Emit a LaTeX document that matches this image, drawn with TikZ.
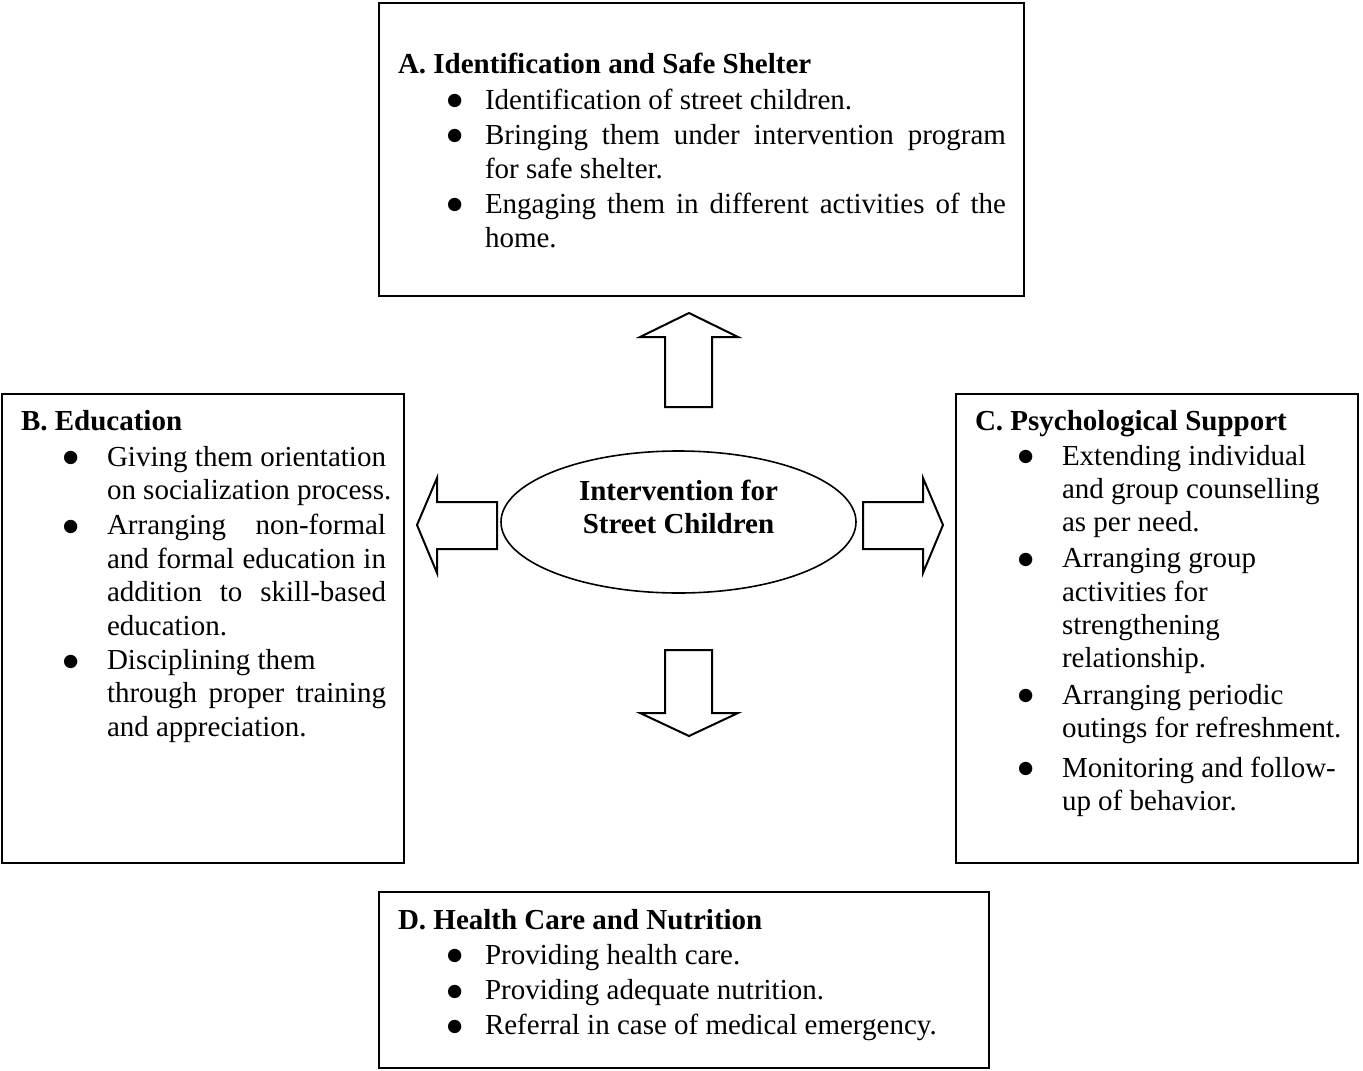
\documentclass[tikz,border=0pt]{standalone}
\usepackage{fontspec}
\setmainfont{Liberation Serif}
\newfontfamily\dejavu{DejaVu Sans}
\usetikzlibrary{shapes.geometric}

\newlength\bulind
\newlength\txtind
\newcommand\bulmark{\makebox[\txtind][l]{\hspace{\bulind}\raisebox{3.5pt}{\dejavu\fontsize{17.5}{17.5}\selectfont ●}}}
\newcommand\bitem[1][0pt]{\par\vspace{#1}\hangindent=\txtind\hangafter=1\noindent\bulmark\ignorespaces}
\newcommand\boxsetup[3]{\fontsize{29}{#1}\selectfont\setlength\bulind{#2}\setlength\txtind{#3}%
  \hyphenpenalty=10000 \exhyphenpenalty=10000 \hfuzz=60pt \hbadness=10000 }

\tikzset{
  frame/.style={draw, line width=2pt, inner sep=0pt, outer sep=0pt},
  bodytext/.style={anchor=base west, inner sep=0pt, outer sep=0pt, text width=#1, align=justify},
  blk/.style={draw, line width=2pt, fill=white, line join=miter},
  hubshape/.style={ellipse, draw, line width=1.6pt, inner sep=0pt},
}

\begin{document}
\begin{tikzpicture}[x=1pt, y=-1pt]
\useasboundingbox[fill=white] (0,0) rectangle (1363,1071);

% boxes
\node[frame, minimum width=645pt, minimum height=293pt] (boxA) at (701.5,149.5) {};
\node[frame, minimum width=402pt, minimum height=469pt] (boxB) at (203,628.5) {};
\node[frame, minimum width=402pt, minimum height=469pt] (boxC) at (1157,628.5) {};
\node[frame, minimum width=610pt, minimum height=176pt] (boxD) at (684,980) {};

% central ellipse
\node[hubshape, minimum width=355pt, minimum height=142pt] (hub) at (678.5,522) {};
\node[anchor=base, align=center, inner sep=0pt, font=\bfseries\fontsize{29}{33}\selectfont] (hubtext) at (678.5,533)
  {Intervention for\\Street Children};

% block arrows
\draw[blk] (665,407) -- (665,337) -- (640,337) -- (689,313) -- (738,337) -- (712,337) -- (712,407) -- cycle;
\draw[blk] (665,650) -- (712,650) -- (712,713) -- (738,713) -- (689,736) -- (640,713) -- (665,713) -- cycle;
\draw[blk] (497,502) -- (437,502) -- (437,478) -- (417,525) -- (437,573) -- (437,549) -- (497,549) -- cycle;
\draw[blk] (863,502) -- (923,502) -- (923,478) -- (943,525) -- (923,573) -- (923,549) -- (863,549) -- cycle;

% A
\node[bodytext=608pt] (textA) at (398,73) {\boxsetup{34pt}{49pt}{87pt}%
{\bfseries A. Identification and Safe Shelter}%
\bitem[2pt] Identification~of~street~children.
\bitem[1pt] Bringing~them~under~intervention~program\linebreak for~safe~shelter.
\bitem[1pt] Engaging~them~in~different~activities~of~the\linebreak home.\par};

% B
\node[bodytext=365pt] (textB) at (21,430) {\boxsetup{33.4pt}{42pt}{86pt}%
{\bfseries B. Education}%
\bitem[2.6pt] Giving~them~orientation\linebreak \mbox{on socialization process.}
\bitem[2pt] Arranging~non-formal\linebreak and~formal~education~in\linebreak addition~to~skill-based\linebreak education.
\bitem[1.1pt] Disciplining~them\newline through~proper~training\linebreak and~appreciation.\par};

% C
\node[bodytext=385pt] (textC) at (975,430) {\boxsetup{33.3pt}{43pt}{87pt}%
{\bfseries C.~Psychological~Support}%
\bitem[1.7pt] Extending~individual\newline and~group~counselling\newline as~per~need.
\bitem[3pt] Arranging~group\newline activities~for\newline strengthening\newline relationship.
\bitem[3pt] Arranging~periodic\newline outings~for~refreshment.
\bitem[6.4pt] Monitoring~and~follow-\newline up~of~behavior.\par};

% D
\node[bodytext=590pt] (textD) at (398,929) {\boxsetup{35.5pt}{49pt}{87pt}%
{\bfseries D.~Health~Care~and~Nutrition}%
\bitem[-0.5pt] Providing~health~care.
\bitem Providing~adequate~nutrition.
\bitem[-0.5pt] Referral~in~case~of~medical~emergency.\par};

\end{tikzpicture}
\end{document}
